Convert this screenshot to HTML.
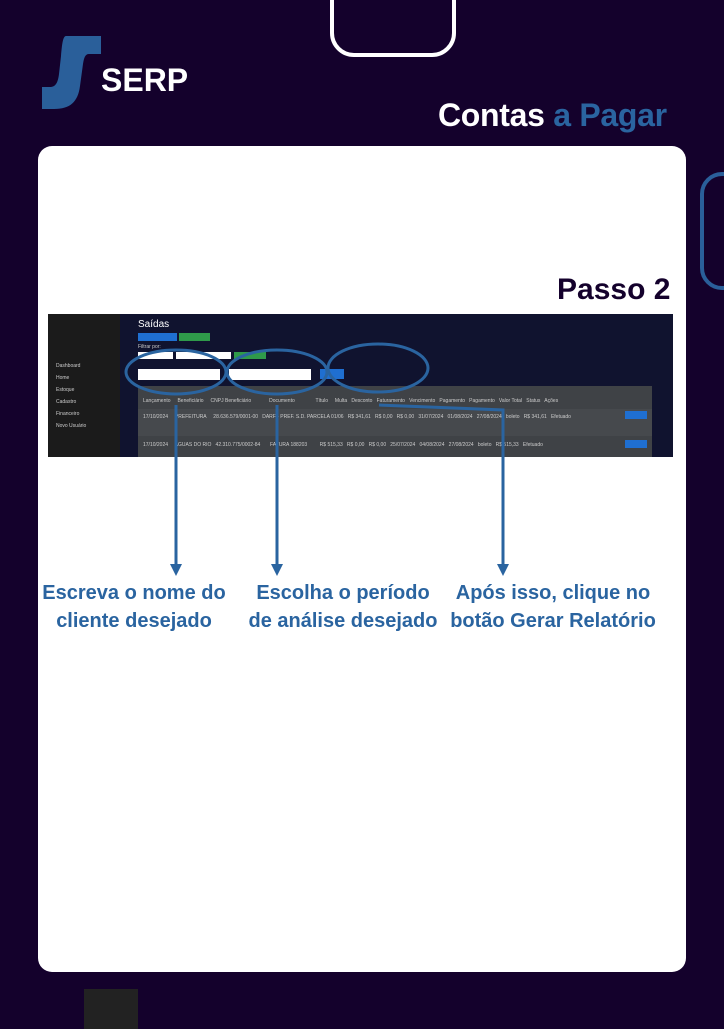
<!DOCTYPE html>
<html><head><meta charset="utf-8"><style>
*{margin:0;padding:0;box-sizing:border-box}
body{width:724px;height:1024px;background:#14012c;position:relative;overflow:hidden;font-family:"Liberation Sans","DejaVu Sans",sans-serif}
.abs{position:absolute}
.card{left:38px;top:146px;width:648px;height:826px;background:#fff;border-radius:14px}
.lbl{color:#2a64a0;font-weight:bold;font-size:20px;line-height:28px;text-align:center;white-space:nowrap}
.ss{left:48px;top:314px;width:625px;height:143px;background:#10132f;overflow:hidden}
.t{font-size:5px;color:#ccc;position:absolute;white-space:nowrap}
</style></head><body>
<div class="abs" style="left:330px;top:-30px;width:126px;height:87px;border:4px solid #fff;border-radius:24px"></div>
<div class="abs" style="left:700px;top:172px;width:60px;height:118px;border:4px solid #2a5f9a;border-radius:22px"></div>
<div class="abs" style="left:84px;top:989px;width:54px;height:40px;background:#222"></div>
<svg class="abs" style="left:40px;top:34px" width="64" height="78"><path d="M26 2 H61 V20 H49 C45 20 44 24 43 30 L40 52 C38 68 30 75 14 75 H2 V53 H10 C16 53 18 48 19 40 L21 22 C22 10 23 2 26 2Z" fill="#2a5f9a"/></svg>
<div class="abs" style="left:101px;top:60px;color:#fff;font-weight:bold;font-size:32px;line-height:40px">SERP</div>
<div class="abs" style="left:438px;top:95px;font-weight:bold;font-size:32px;line-height:40px;color:#fff;letter-spacing:-0.3px">Contas <span style="color:#2a64a0">a Pagar</span></div>
<div class="card abs"></div>
<div class="abs" style="left:557px;top:271px;font-weight:bold;font-size:30px;line-height:38px;color:#14012c">Passo 2</div>
<div class="ss abs">
 <div class="abs" style="left:0;top:0;width:72px;height:143px;background:#1b1b1b"></div>
 <div class="t" style="left:8px;top:49px">Dashboard</div><div class="t" style="left:8px;top:61px">Home</div><div class="t" style="left:8px;top:73px">Estoque</div><div class="t" style="left:8px;top:85px">Cadastro</div><div class="t" style="left:8px;top:97px">Financeiro</div><div class="t" style="left:8px;top:109px">Novo Usuário</div>
 <div class="t" style="left:90px;top:5px;font-size:10px;color:#fff">Saídas</div>
 <div class="abs" style="left:90px;top:19px;width:39px;height:8px;background:#1f6fd1"></div>
 <div class="abs" style="left:131px;top:19px;width:31px;height:8px;background:#2f9a4a"></div>
 <div class="t" style="left:90px;top:30px">Filtrar por:</div>
 <div class="abs" style="left:90px;top:38px;width:35px;height:7px;background:#fff"></div>
 <div class="abs" style="left:128px;top:38px;width:55px;height:7px;background:#fff"></div>
 <div class="abs" style="left:186px;top:38px;width:32px;height:7px;background:#2f9a4a"></div>
 <div class="abs" style="left:90px;top:55px;width:82px;height:11px;background:#fff"></div>
 <div class="abs" style="left:181px;top:55px;width:82px;height:11px;background:#fff"></div>
 <div class="abs" style="left:272px;top:55px;width:24px;height:10px;background:#1f6fd1"></div>
 <div class="abs" style="left:90px;top:72px;width:514px;height:71px;background:#3f4246"></div>
 <div class="abs" style="left:90px;top:95px;width:514px;height:27px;background:#46494d"></div>
 <div class="abs" style="left:577px;top:97px;width:22px;height:8px;background:#1f6fd1"></div>
 <div class="abs" style="left:577px;top:126px;width:22px;height:8px;background:#1f6fd1"></div>
 <div class="t" style="left:95px;top:84px">Lançamento &nbsp; &nbsp; Beneficiário &nbsp; &nbsp; CNPJ Beneficiário &nbsp; &nbsp; &nbsp; &nbsp; &nbsp; &nbsp; Documento &nbsp; &nbsp; &nbsp; &nbsp; &nbsp; &nbsp; &nbsp; Título &nbsp; &nbsp; Multa &nbsp; Desconto &nbsp; Faturamento &nbsp; Vencimento &nbsp; Pagamento &nbsp; Pagamento &nbsp; Valor Total &nbsp; Status &nbsp; Ações</div>
 <div class="t" style="left:95px;top:100px">17/10/2024 &nbsp; &nbsp; PREFEITURA &nbsp; &nbsp; 28.636.579/0001-00 &nbsp; DARF - PREF. S.D. PARCELA 01/06 &nbsp; R$ 341,61 &nbsp; R$ 0,00 &nbsp; R$ 0,00 &nbsp; 31/07/2024 &nbsp; 01/08/2024 &nbsp; 27/08/2024 &nbsp; boleto &nbsp; R$ 341,61 &nbsp; Efetuado</div>
 <div class="t" style="left:95px;top:128px">17/10/2024 &nbsp; &nbsp; AGUAS DO RIO &nbsp; 42.310.775/0002-84 &nbsp; &nbsp; &nbsp; FATURA 188203 &nbsp; &nbsp; &nbsp; &nbsp; R$ 515,33 &nbsp; R$ 0,00 &nbsp; R$ 0,00 &nbsp; 25/07/2024 &nbsp; 04/08/2024 &nbsp; 27/08/2024 &nbsp; boleto &nbsp; R$ 515,33 &nbsp; Efetuado</div>
</div>
<svg class="abs" style="left:0;top:0" width="724" height="1024">
 <g fill="none" stroke="#2a64a0" stroke-width="3">
  <ellipse cx="176" cy="372" rx="50" ry="22"/>
  <ellipse cx="277" cy="372" rx="50" ry="22"/>
  <ellipse cx="378" cy="368" rx="50" ry="24"/>
  <path d="M176 405 V568"/><path d="M277 405 V568"/>
  <path d="M379 405 L503 410 V568"/>
 </g>
 <g fill="#2a64a0">
  <path d="M170 564 L182 564 L176 576Z"/><path d="M271 564 L283 564 L277 576Z"/><path d="M497 564 L509 564 L503 576Z"/>
 </g>
</svg>
<div class="abs lbl" style="left:34px;top:579px;width:200px">Escreva o nome do<br>cliente desejado</div>
<div class="abs lbl" style="left:243px;top:579px;width:200px">Escolha o período<br>de análise desejado</div>
<div class="abs lbl" style="left:443px;top:579px;width:220px">Após isso, clique no<br>botão Gerar Relatório</div>
</body></html>
